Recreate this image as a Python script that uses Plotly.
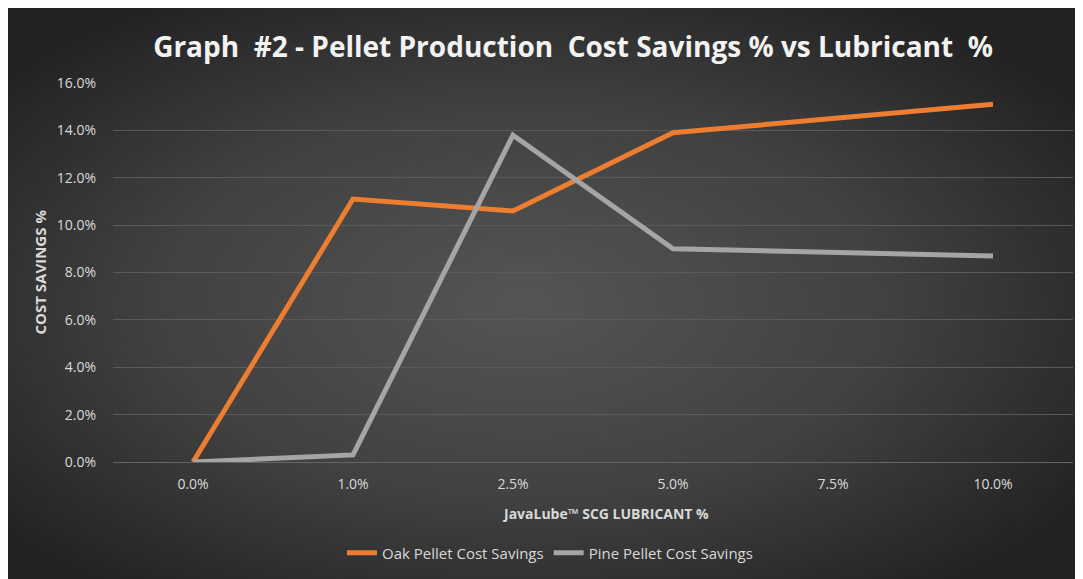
import base64
import plotly.graph_objects as go

categories = ["0.0%", "1.0%", "2.5%", "5.0%", "7.5%", "10.0%"]
oak_savings = [0.0, 0.111, 0.106, 0.139, None, 0.151]
pine_savings = [0.0, 0.003, 0.138, 0.090, None, 0.087]
y_ticks = [0.0, 0.02, 0.04, 0.06, 0.08, 0.10, 0.12, 0.14, 0.16]

W, H = 1074, 571
L, R, T, B = 105, 9, 75, 117
pw, ph = W - L - R, H - T - B

svg = (
    "<svg xmlns='http://www.w3.org/2000/svg' width='1074' height='571' preserveAspectRatio='none'>"
    "<defs><radialGradient id='g' cx='48%' cy='52%' r='62%'>"
    "<stop offset='0' stop-color='#555555'/>"
    "<stop offset='0.55' stop-color='#414141'/>"
    "<stop offset='1' stop-color='#232323'/>"
    "</radialGradient></defs>"
    "<rect width='1074' height='571' fill='url(#g)'/></svg>"
)
src = "data:image/svg+xml;base64," + base64.b64encode(svg.encode()).decode()

fig = go.Figure()
fig.add_trace(go.Scatter(
    x=categories, y=oak_savings, mode="lines", name="Oak Pellet Cost Savings",
    line=dict(color="#ED7D31", width=5), connectgaps=True,
))
fig.add_trace(go.Scatter(
    x=categories, y=pine_savings, mode="lines", name="Pine Pellet Cost Savings",
    line=dict(color="#A5A5A5", width=5), connectgaps=True,
))

fig.add_layout_image(dict(
    source=src, xref="paper", yref="paper",
    x=-L / pw, y=(ph + T) / ph, sizex=W / pw, sizey=H / ph,
    xanchor="left", yanchor="top", sizing="stretch", layer="below",
))


def px(fx):
    return (fx - L) / pw


def py(fy):
    return (T + ph - fy) / ph


fig.update_layout(
    width=W, height=H,
    margin=dict(l=L, r=R, t=T, b=B),
    paper_bgcolor="#262626",
    plot_bgcolor="rgba(0,0,0,0)",
    title=dict(
        text="Graph  #2 - Pellet Production  Cost Savings % vs Lubricant  %",
        x=565 / W, xanchor="center", y=1 - 39 / H, yanchor="middle",
        font=dict(family="Open Sans", size=28, color="#F2F2F2", weight="bold"),
    ),
    showlegend=True,
    legend=dict(
        orientation="h", x=px(542), xanchor="center",
        y=py(545), yanchor="middle",
        font=dict(family="Open Sans", size=15, color="#D9D9D9"),
        bgcolor="rgba(0,0,0,0)", itemwidth=30,
    ),
    xaxis=dict(
        type="category", showgrid=False, showline=False, zeroline=False,
        tickfont=dict(family="Open Sans", size=14, color="#D9D9D9"),
        ticks="", ticklabelstandoff=12,
        range=[-0.5, len(categories) - 0.5],
    ),
    yaxis=dict(
        range=[0, 0.16], tickvals=y_ticks, tickformat=".1%",
        showgrid=True, gridcolor="#5a5a5a", gridwidth=1,
        zeroline=True, zerolinecolor="#646464", zerolinewidth=1,
        showline=False, ticks="", ticklabelstandoff=16,
        tickfont=dict(family="Open Sans", size=14, color="#D9D9D9"),
    ),
    annotations=[
        dict(text="<b>COST SAVINGS %</b>", xref="paper", yref="paper",
             x=px(31), y=0.5, textangle=-90, showarrow=False,
             xanchor="center", yanchor="middle",
             font=dict(family="Open Sans", size=15, color="#D9D9D9")),
        dict(text="<b>JavaLube™ SCG LUBRICANT %</b>", xref="paper", yref="paper",
             x=px(597), y=py(505), showarrow=False,
             xanchor="center", yanchor="middle",
             font=dict(family="Open Sans", size=14, color="#D9D9D9")),
    ],
)

fig.write_html("out.html")
